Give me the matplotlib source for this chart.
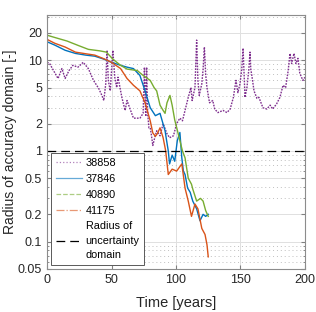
import numpy as np
import matplotlib

matplotlib.use("Agg")
import matplotlib.pyplot as plt  # noqa: E402
from matplotlib.ticker import FixedLocator, NullFormatter  # noqa: E402

plt.rcParams["font.family"] = ["Liberation Sans", "DejaVu Sans"]

# object 38858 (purple, dotted)
t_38858 = [0, 2, 5, 8.5, 11.5, 14, 17, 20, 24, 28, 32, 36, 40, 42.5, 44, 45.5,
           46.5, 47.5, 49, 51, 52.5, 54, 55, 58, 60.5, 62, 64, 67, 72, 74.5,
           75.5, 76.5, 77.2, 78, 79, 80, 81, 82, 83.5, 85, 87.6, 90, 93, 95,
           98, 100.5, 103, 105, 107, 109.5, 111.6, 112.5, 114.7, 116, 117,
           118, 120, 121, 122, 123, 124, 126, 128.5, 130, 132.5, 136.5, 139.5,
           142, 144.5, 146.5, 148, 149.6, 151, 152, 153, 153.5, 155, 156.5,
           157.4, 158, 159, 160.5, 162.8, 164.3, 167.4, 170.5, 173, 175, 178,
           180.6, 183, 185, 187, 188.4, 189.7, 191.5, 193, 194.6, 196, 198.4, 200]
r_38858 = [9.5, 9.2, 7.7, 6.3, 8.1, 6.3, 7.7, 8.8, 8.4, 9.5, 8.1, 6.0, 4.9, 4.1,
           3.6, 5.5, 12.9, 6.0, 4.6, 12.9, 6.5, 5.0, 6.5, 3.9, 2.8, 3.6, 3.0,
           2.3, 2.3, 2.6, 8.4, 2.4, 8.4, 2.6, 1.8, 1.8, 1.47, 1.15, 1.4, 1.67,
           1.47, 2.0, 1.55, 1.4, 1.47, 2.0, 2.3, 2.15, 2.8, 3.9, 5.0, 3.6, 5.0,
           16.7, 6.0, 4.1, 5.5, 8.0, 14.0, 7.0, 5.0, 3.4, 3.6, 2.9, 2.65, 2.8,
           2.65, 2.9, 3.9, 6.0, 4.4, 5.5, 8.0, 13.6, 6.0, 3.9, 5.0, 8.0, 12.3,
           8.0, 6.5, 4.6, 3.8, 3.9, 3.0, 2.9, 3.2, 2.9, 3.3, 3.9, 5.3, 5.0, 7.7,
           11.9, 9.2, 11.9, 9.2, 10.5, 7.2, 6.0, 6.5]

# object 37846 (blue)
t_37846 = [0, 6, 14, 22, 30, 37, 44, 50, 57, 62, 67, 72, 76, 80, 84, 87.6, 91.5,
           94, 95, 97, 99, 101, 103, 104.5, 105.7, 107, 109, 111, 113, 116,
           118.6, 121, 123, 125]
r_37846 = [16.0, 14.7, 12.9, 11.9, 11.4, 11.1, 10.3, 9.5, 8.8, 8.4, 8.1, 6.8,
           4.6, 3.0, 2.45, 2.6, 1.67, 1.0, 0.72, 0.9, 0.77, 1.3, 1.6, 0.84, 0.6,
           0.55, 0.39, 0.35, 0.28, 0.23, 0.17, 0.2, 0.19, 0.2]

# object 40890 (green)
t_40890 = [0, 8, 15.5, 24, 32, 41, 46, 51, 57, 62, 70, 74.5, 80, 83, 85, 87.6,
           90, 91.5, 93, 95.3, 97, 99, 101, 103, 105, 107, 109.5, 112, 113,
           116, 119, 121, 123, 125]
r_40890 = [18.9, 17.5, 16.3, 14.6, 13.2, 12.7, 12.3, 10.3, 8.8, 8.0, 7.7, 6.8,
           6.0, 5.0, 4.6, 3.2, 2.8, 2.6, 3.4, 4.1, 3.2, 2.2, 1.7, 1.3, 1.0, 0.84,
           0.5, 0.43, 0.38, 0.28, 0.3, 0.28, 0.22, 0.19]

# object 41175 (orange)
t_41175 = [0, 6, 14, 22, 30, 37, 44, 50, 57, 62, 67, 72, 76, 80, 82, 84, 85.5,
           87.6, 90, 92, 94, 97, 100.5, 104.5, 107, 109.5, 112, 114.7, 117, 120,
           122.5, 124, 125]
r_41175 = [17.0, 15.4, 14.0, 12.3, 11.8, 11.4, 10.4, 9.5, 8.1, 6.3, 5.3, 4.6,
           3.4, 2.15, 1.58, 1.45, 1.55, 1.8, 1.4, 1.0, 0.55, 0.63, 0.6, 0.72,
           0.39, 0.28, 0.19, 0.26, 0.23, 0.14, 0.12, 0.093, 0.068]

labels = ["38858", "37846", "40890", "41175"]
colors = ["#7E2F8E", "#0072BD", "#77AC30", "#D95319"]
styles = [":", "-", "--", "-."]

fig = plt.figure(figsize=(3.16, 3.12), dpi=100)
ax = fig.add_axes([0.149, 0.138, 0.816, 0.814])

series = [(t_38858, r_38858), (t_37846, r_37846), (t_40890, r_40890), (t_41175, r_41175)]
handles = []
for (t, r), lab, c, ls in zip(series, labels, colors, styles):
    # dense simulation output: only the dotted one reads as dotted in the plot
    draw_ls = (0, (1.2, 0.9)) if ls == ":" else "-"
    ax.plot(t, r, color=c, lw=1.0, ls=draw_ls)
    h, = ax.plot([], [], color=c, lw=0.9, ls=ls, label=lab, alpha=0.6)
    handles.append(h)

h_unc = ax.axhline(1.0, color="k", lw=0.9, ls=(0, (7, 4)),
                   label="Radius of\nuncertainty\ndomain")
handles.append(h_unc)

ax.set_yscale("log")
ax.set_xlim(0, 200)
ax.set_ylim(0.05, 31.6)
ax.set_xticks([0, 50, 100, 150, 200])
yt = [0.05, 0.1, 0.2, 0.5, 1, 2, 5, 10, 20]
ax.yaxis.set_major_locator(FixedLocator(yt))
ax.set_yticklabels(["0.05", "0.1", "0.2", "0.5", "1", "2", "5", "10", "20"])
minor = [v * d for d in (0.01, 0.1, 1, 10) for v in range(1, 10)]
minor = [m for m in minor if 0.05 <= m <= 31.6 and round(m, 4) not in yt]
ax.yaxis.set_minor_locator(FixedLocator(minor))
ax.yaxis.set_minor_formatter(NullFormatter())

ax.grid(True, which="major", color="0.88", lw=0.7)
ax.grid(True, which="minor", axis="y", color="0.75", lw=0.7, ls=(0, (1, 3)))
ax.set_axisbelow(True)

ax.tick_params(which="both", direction="in", top=True, right=True,
               labelsize=9, labelcolor="0.15", color="0.5", length=3)
ax.tick_params(which="minor", length=1.5)
for s in ax.spines.values():
    s.set_color("0.55")
    s.set_linewidth(0.8)

ax.set_xlabel("Time [years]", fontsize=10.5, color="0.15", labelpad=7)
ax.set_ylabel("Radius of accuracy domain [-]", fontsize=10, color="0.15", labelpad=1)

leg = ax.legend(handles=handles, loc="lower left", fontsize=7.8, frameon=True,
                fancybox=False, edgecolor="0.35", framealpha=1,
                handlelength=2.4, handletextpad=0.35, labelspacing=0.55,
                borderaxespad=0.4, borderpad=0.4)
leg.get_frame().set_linewidth(0.7)
for txt in leg.get_texts():
    txt.set_linespacing(1.55)

fig.savefig("out.png", dpi=100)
